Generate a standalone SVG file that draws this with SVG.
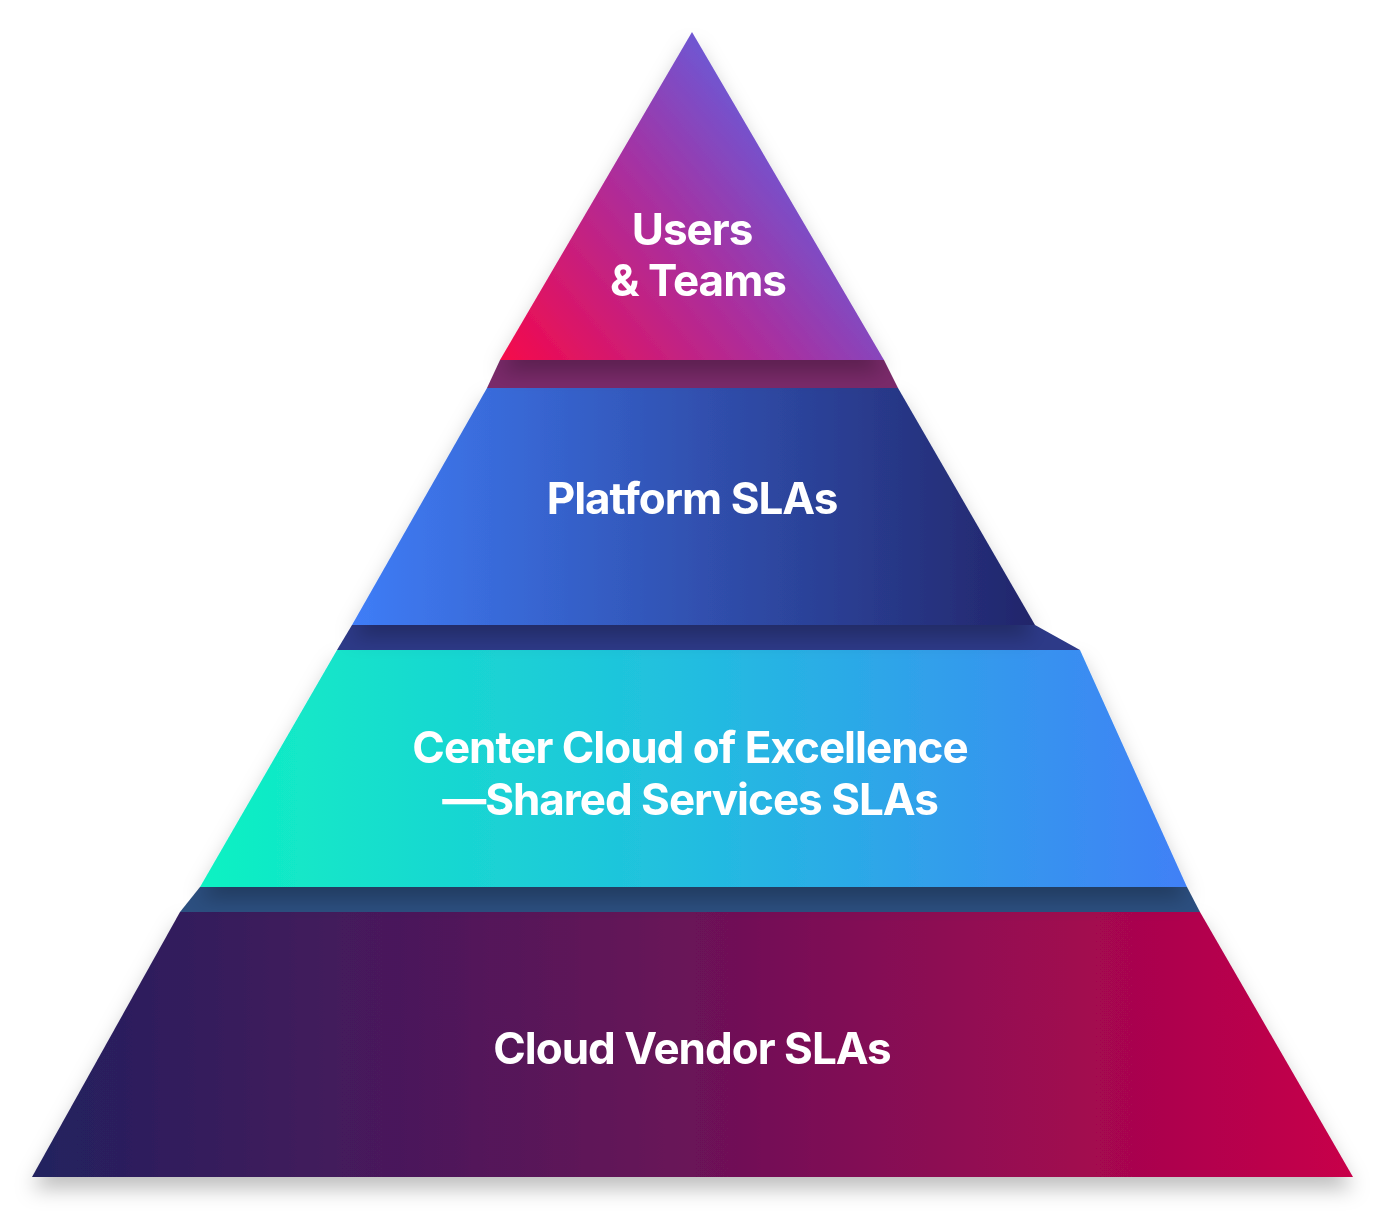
<svg xmlns="http://www.w3.org/2000/svg" width="1400" height="1229" viewBox="0 0 1400 1229">
<defs>
<linearGradient id="g1" x1="0" y1="1" x2="1" y2="0.3"><stop offset="0" stop-color="#f5084a"/><stop offset="0.5" stop-color="#a830a0"/><stop offset="1" stop-color="#4a6ff2"/></linearGradient>
<linearGradient id="g2" x1="0" y1="0" x2="1" y2="0"><stop offset="0" stop-color="#3f7df7"/><stop offset="1" stop-color="#22256a"/></linearGradient>
<linearGradient id="g3" x1="0" y1="0" x2="1" y2="0"><stop offset="0" stop-color="#0ef2c2"/><stop offset="0.5" stop-color="#22bde0"/><stop offset="1" stop-color="#4080f6"/></linearGradient>
<linearGradient id="g4" x1="0" y1="0" x2="1" y2="0"><stop offset="0" stop-color="#22215e"/><stop offset="0.5" stop-color="#6a1258"/><stop offset="1" stop-color="#c8004a"/></linearGradient>
<filter id="sh" x="-10%" y="-10%" width="120%" height="130%"><feDropShadow dx="0" dy="12" stdDeviation="10" flood-color="#000" flood-opacity="0.25"/></filter>
<style>.t{font-family:Inter,"Liberation Sans",sans-serif;font-weight:700;font-size:44px;fill:#fff;text-anchor:middle;letter-spacing:-1px}</style>
</defs>
<g id="tier4" filter="url(#sh)"><polygon points="180,912 1200,912 1353,1177 32,1177" fill="url(#g4)"/><text class="t" x="692" y="1064">Cloud Vendor SLAs</text></g>
<polygon points="200,887 1187,887 1200,912 180,912" fill="#2c4f80"/>
<g id="tier3" filter="url(#sh)"><polygon points="337,650 1080,650 1187,887 200,887" fill="url(#g3)"/><text class="t" x="690" y="763">Center Cloud of Excellence</text><text class="t" x="690" y="815">—Shared Services SLAs</text></g>
<polygon points="352,625 1035,625 1080,650 337,650" fill="#2d3a88"/>
<g id="tier2" filter="url(#sh)"><polygon points="487,388 898,388 1035,625 352,625" fill="url(#g2)"/><text class="t" x="692" y="514">Platform SLAs</text></g>
<polygon points="500,360 884,360 898,388 487,388" fill="#7a2a6a"/>
<g id="tier1" filter="url(#sh)"><polygon points="692,32 884,360 500,360" fill="url(#g1)"/><text class="t" x="692" y="245">Users</text><text class="t" x="698" y="296">&amp; Teams</text></g>
</svg>
